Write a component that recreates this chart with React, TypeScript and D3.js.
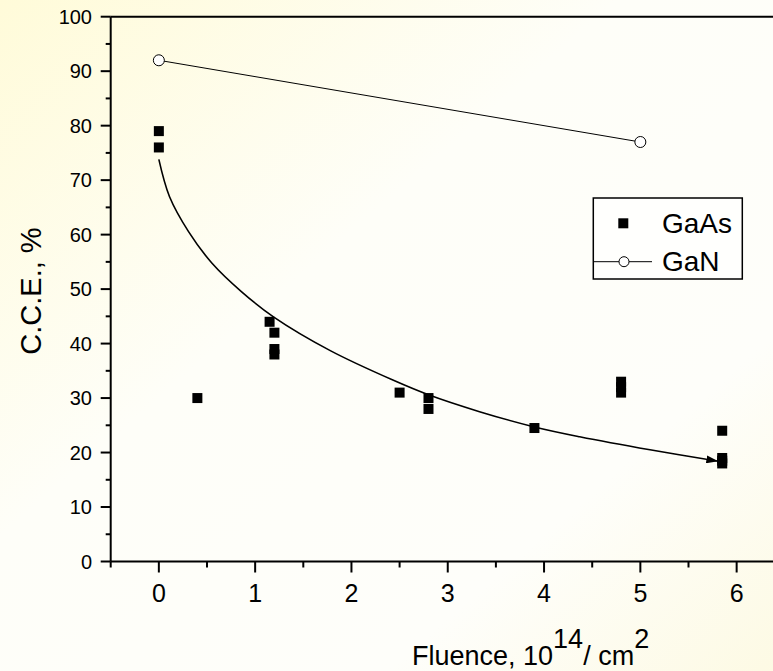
import React from "react";
import * as d3 from "d3";

// GaAs charge collection efficiency measurements
const gaasFluence = [0, 0, 0.4, 1.15, 1.2, 1.2, 1.2, 2.5, 2.8, 2.8, 3.9, 4.8, 4.8, 4.8, 5.85, 5.85, 5.85, 5.85];
const gaasCCE = [79, 76, 30, 44, 42, 39, 38, 31, 30, 28, 24.5, 33, 32, 31, 24, 19, 18.5, 18];

// GaN measurements
const ganFluence = [0, 5];
const ganCCE = [92, 77];

// Trend curve through the GaAs data
const fitFluence = [0, 0.11, 0.31, 0.55, 0.86, 1.19, 1.78, 2.43, 2.8, 3.33, 3.9, 4.37, 5.1, 5.81];
const fitCCE = [73.8, 67, 60.5, 54.8, 49.5, 44.9, 38.7, 33.3, 30.6, 27.5, 24.7, 22.9, 20.5, 18.4];

const xTicks = [0, 1, 2, 3, 4, 5, 6];
const xMinorTicks = [-0.5, 0.5, 1.5, 2.5, 3.5, 4.5, 5.5];
const yTicks = [0, 10, 20, 30, 40, 50, 60, 70, 80, 90, 100];
const yMinorTicks = [5, 15, 25, 35, 45, 55, 65, 75, 85, 95];

const W = 773;
const H = 671;
const FONT = "'Liberation Sans', Arial, Helvetica, sans-serif";

export default function App() {
  const x = d3.scaleLinear().domain([-0.5, 6.5]).range([110.7, 784.8]);
  const y = d3.scaleLinear().domain([0, 100]).range([561.5, 16.7]);

  const fitLine = d3
    .line<number>()
    .x((_, i) => x(fitFluence[i]))
    .y((d) => y(d))
    .curve(d3.curveCatmullRom.alpha(0.5))(fitCCE) as string;

  const ganLine = d3
    .line<number>()
    .x((_, i) => x(ganFluence[i]))
    .y((d) => y(d))(ganCCE) as string;

  const sq = 10;
  const x0 = x(-0.5);
  const yBase = y(0);

  return (
    <svg
      width={W}
      height={H}
      style={{ position: "absolute", left: 0, top: 0 }}
      fontFamily={FONT}
    >
      <defs>
        <linearGradient id="bg" x1="0" y1="0" x2="1" y2="1">
          <stop offset="0" stopColor="#fffbd9" />
          <stop offset="0.4" stopColor="#fefef8" />
          <stop offset="0.75" stopColor="#fefefa" />
          <stop offset="1" stopColor="#fdfae4" />
        </linearGradient>
        <marker
          id="arrow"
          viewBox="0 0 12 8"
          refX="12"
          refY="4"
          markerWidth="12"
          markerHeight="8"
          markerUnits="userSpaceOnUse"
          orient="auto"
        >
          <path d="M0,0 L12,4 L0,8 Z" fill="#000" />
        </marker>
      </defs>
      <rect x={0} y={0} width={W} height={H} fill="url(#bg)" />

      {/* frame: top border and axes */}
      <line x1={x0} x2={W} y1={y(100)} y2={y(100)} stroke="#000" strokeWidth={2} />
      <line x1={x0} x2={x0} y1={y(100)} y2={yBase} stroke="#000" strokeWidth={2} />
      <line x1={x0} x2={W} y1={yBase} y2={yBase} stroke="#000" strokeWidth={2} />

      {/* y ticks */}
      {yTicks.map((t) => (
        <g key={"y" + t}>
          <line x1={x0 - 10} x2={x0} y1={y(t)} y2={y(t)} stroke="#000" strokeWidth={2} />
          <text x={92} y={y(t)} dy="0.36em" textAnchor="end" fontSize={20} fill="#000">
            {t}
          </text>
        </g>
      ))}
      {yMinorTicks.map((t) => (
        <line key={"ym" + t} x1={x0 - 5} x2={x0} y1={y(t)} y2={y(t)} stroke="#000" strokeWidth={2} />
      ))}

      {/* x ticks */}
      {xTicks.map((t) => (
        <g key={"x" + t}>
          <line x1={x(t)} x2={x(t)} y1={yBase} y2={yBase + 11} stroke="#000" strokeWidth={2} />
          <text x={x(t)} y={602} textAnchor="middle" fontSize={25} fill="#000">
            {t}
          </text>
        </g>
      ))}
      {xMinorTicks.map((t) => (
        <line key={"xm" + t} x1={x(t)} x2={x(t)} y1={yBase} y2={yBase + 6} stroke="#000" strokeWidth={2} />
      ))}

      {/* axis titles */}
      <text x={412} y={665} fontSize={27} fill="#000">
        Fluence, 10
        <tspan dy={-17}>14</tspan>
        <tspan dy={17}>/ cm</tspan>
        <tspan dy={-17}>2</tspan>
      </text>
      <text
        transform="translate(41,291) rotate(-90)"
        textAnchor="middle"
        fontSize={29}
        fill="#000"
      >
        C.C.E., %
      </text>

      {/* GaN series */}
      <path d={ganLine} fill="none" stroke="#000" strokeWidth={1} />
      {ganCCE.map((v, i) => (
        <circle key={"gn" + i} cx={x(ganFluence[i])} cy={y(v)} r={5.5} fill="#fff" stroke="#000" strokeWidth={1} />
      ))}

      {/* trend curve */}
      <path d={fitLine} fill="none" stroke="#000" strokeWidth={1.6} markerEnd="url(#arrow)" />

      {/* GaAs series */}
      {gaasCCE.map((v, i) => (
        <rect
          key={"ga" + i}
          x={x(gaasFluence[i]) - sq / 2}
          y={y(v) - sq / 2}
          width={sq}
          height={sq}
          fill="#000"
        />
      ))}

      {/* legend */}
      <rect x={593.3} y={198} width={149} height={81} fill="#fffffd" stroke="#000" strokeWidth={1.5} />
      <rect x={623.3 - 5} y={223.3 - 5} width={10} height={10} fill="#000" />
      <text x={662} y={233} fontSize={28} fill="#000">GaAs</text>
      <line x1={593.3} x2={652} y1={261.7} y2={261.7} stroke="#000" strokeWidth={1} />
      <circle cx={624} cy={261.7} r={5} fill="#fff" stroke="#000" strokeWidth={1} />
      <text x={662} y={271} fontSize={28} fill="#000">GaN</text>
    </svg>
  );
}
